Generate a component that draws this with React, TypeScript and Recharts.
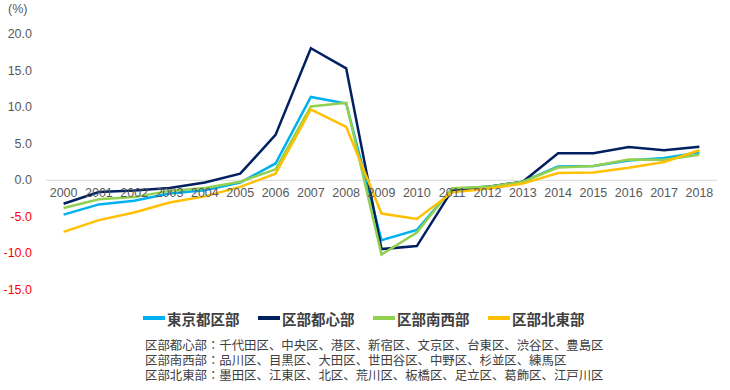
import {
  LineChart,
  Line,
  XAxis,
  YAxis,
  ReferenceLine,
  ReferenceDot,
  Legend,
} from 'recharts';

const years = [
  '2000', '2001', '2002', '2003', '2004', '2005', '2006', '2007', '2008', '2009',
  '2010', '2011', '2012', '2013', '2014', '2015', '2016', '2017', '2018',
];

const tokyoKubu = [-4.7, -3.3, -2.8, -1.8, -1.35, -0.3, 2.3, 11.4, 10.5, -8.2, -6.8, -1.2, -0.9, -0.2, 1.9, 1.95, 2.7, 3.05, 3.8];
const toshin = [-3.2, -1.6, -1.4, -1.05, -0.3, 0.9, 6.2, 18.05, 15.3, -9.4, -9.0, -1.35, -0.9, -0.2, 3.7, 3.7, 4.55, 4.1, 4.6];
const nanSei = [-3.8, -2.6, -2.3, -1.45, -1.05, -0.2, 1.5, 10.1, 10.6, -10.15, -7.15, -1.1, -0.9, -0.2, 1.75, 1.95, 2.85, 2.8, 3.5];
const hokuTo = [-7.05, -5.45, -4.4, -3.05, -2.2, -0.9, 0.9, 9.7, 7.3, -4.55, -5.3, -1.65, -1.15, -0.45, 1.0, 1.05, 1.7, 2.5, 4.1];

const yTicks = [-15, -10, -5, 0, 5, 10, 15, 20];

const series = [
  { key: 'tokyoKubu', name: '東京都区部', color: '#00B0F0', values: tokyoKubu },
  { key: 'toshin', name: '区部都心部', color: '#002060', values: toshin },
  { key: 'nanSei', name: '区部南西部', color: '#92D050', values: nanSei },
  { key: 'hokuTo', name: '区部北東部', color: '#FFC000', values: hokuTo },
];

const notes = [
  '区部都心部：千代田区、中央区、港区、新宿区、文京区、台東区、渋谷区、豊島区',
  '区部南西部：品川区、目黒区、大田区、世田谷区、中野区、杉並区、練馬区',
  '区部北東部：墨田区、江東区、北区、荒川区、板橋区、足立区、葛飾区、江戸川区',
];

const data = years.map((year, i) => {
  const row: { [key: string]: string | number } = { year };
  series.forEach((s) => {
    row[s.key] = s.values[i];
  });
  return row;
});

const numFont = '"Liberation Sans", Arial, sans-serif';
const cjkFont = '"Noto Sans CJK JP", sans-serif';

function YTick(props: any) {
  const { x, y, payload } = props;
  const v = payload.value as number;
  return (
    <text
      x={x}
      y={y}
      dy={4}
      textAnchor="end"
      fontSize={12.5}
      fontFamily={numFont}
      fill={v < 0 ? '#FF0000' : '#595959'}
    >
      {v.toFixed(1)}
    </text>
  );
}

function renderLegend() {
  return (
    <div style={{ display: 'flex', fontFamily: cjkFont, fontWeight: 700, fontSize: 14.5, color: '#404040', height: 20, alignItems: 'center' }}>
      {series.map((s) => (
        <div key={s.key} style={{ display: 'flex', alignItems: 'center', width: 115 }}>
          <span style={{ display: 'inline-block', width: 22, height: 4, background: s.color, marginRight: 2 }} />
          <span>{s.name}</span>
        </div>
      ))}
    </div>
  );
}

export default function App() {
  return (
    <div style={{ position: 'absolute', left: 0, top: 0, width: 730, height: 390, background: '#fff' }}>
      <div style={{ position: 'absolute', left: 8, top: 2, fontFamily: numFont, fontSize: 12.5, color: '#595959' }}>
        (%)
      </div>
      <LineChart width={730} height={390} data={data} margin={{ top: 34, right: 13, bottom: 80, left: 0 }}>
        <XAxis dataKey="year" hide padding={{ left: 17.6, right: 17.6 }} />
        <YAxis
          width={46}
          domain={[-15, 20]}
          ticks={yTicks}
          axisLine={false}
          tickLine={false}
          tickSize={0}
          tickMargin={14}
          tick={<YTick />}
        />
        <ReferenceLine y={0} stroke="#D9D9D9" strokeWidth={1} />
        {years.map((year) => (
          <ReferenceDot
            key={year}
            x={year}
            y={0}
            r={0}
            stroke="none"
            fill="none"
            label={{ value: year, position: 'bottom', offset: 8, fontSize: 12.5, fontFamily: numFont, fill: '#595959' }}
          />
        ))}
        {series.map((s) => (
          <Line
            key={s.key}
            type="linear"
            dataKey={s.key}
            name={s.name}
            stroke={s.color}
            strokeWidth={2.5}
            dot={false}
            isAnimationActive={false}
          />
        ))}
        <Legend
          verticalAlign="bottom"
          content={renderLegend}
          wrapperStyle={{ left: 143, top: 308, bottom: 'auto', width: 'auto' }}
        />
      </LineChart>
      <div style={{ position: 'absolute', left: 145, top: 338, fontFamily: cjkFont, fontSize: 12.4, lineHeight: '15px', color: '#404040' }}>
        {notes.map((n) => (
          <div key={n}>{n}</div>
        ))}
      </div>
    </div>
  );
}
